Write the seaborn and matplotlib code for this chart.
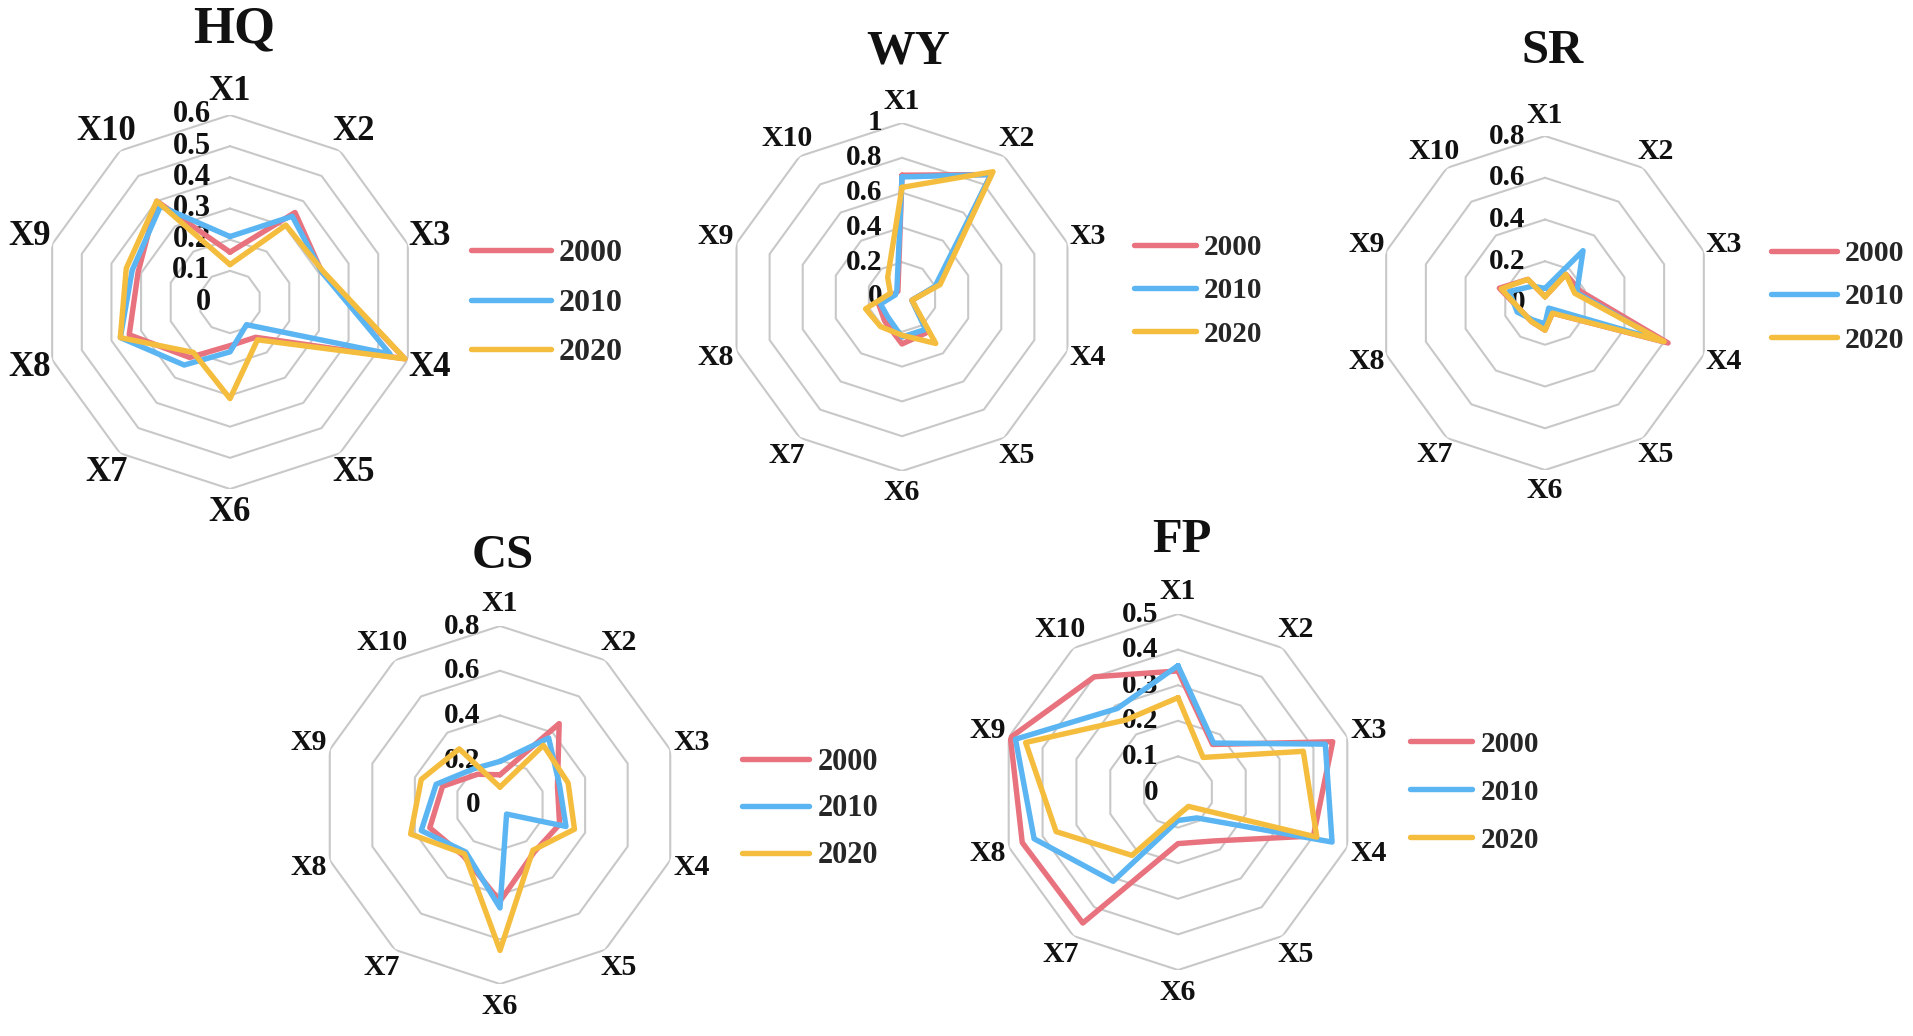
import numpy as np
import pandas as pd
import matplotlib
matplotlib.use('Agg')
import matplotlib.pyplot as plt
import seaborn as sns

sns.set_theme(style='white')
plt.rcParams['font.family'] = ['Liberation Serif', 'DejaVu Serif']
plt.rcParams['font.weight'] = 'bold'

# datos
categories = ['X1', 'X2', 'X3', 'X4', 'X5', 'X6', 'X7', 'X8', 'X9', 'X10']
years = ['2000', '2010', '2020']

hq_2000 = [0.16, 0.355, 0.31, 0.59, 0.14, 0.14, 0.22, 0.34, 0.31, 0.40]
hq_2010 = [0.21, 0.34, 0.31, 0.54, 0.09, 0.16, 0.25, 0.37, 0.33, 0.38]
hq_2020 = [0.12, 0.305, 0.315, 0.59, 0.15, 0.31, 0.20, 0.37, 0.35, 0.40]

wy_2000 = [0.70, 0.87, 0.21, 0.06, 0.25, 0.27, 0.17, 0.14, 0.05, 0.04]
wy_2010 = [0.69, 0.87, 0.20, 0.06, 0.23, 0.23, 0.14, 0.13, 0.04, 0.05]
wy_2020 = [0.63, 0.89, 0.23, 0.06, 0.33, 0.22, 0.21, 0.22, 0.07, 0.14]

sr_2000 = [0.03, 0.17, 0.18, 0.62, 0.06, 0.13, 0.11, 0.12, 0.23, 0.14]
sr_2010 = [0.07, 0.31, 0.16, 0.58, 0.03, 0.10, 0.10, 0.14, 0.18, 0.10]
sr_2020 = [0.03, 0.17, 0.15, 0.60, 0.06, 0.13, 0.11, 0.12, 0.22, 0.14]

cs_2000 = [0.135, 0.45, 0.27, 0.28, 0.26, 0.43, 0.28, 0.33, 0.27, 0.17]
cs_2010 = [0.195, 0.37, 0.28, 0.31, 0.05, 0.46, 0.26, 0.37, 0.30, 0.20]
cs_2020 = [0.08, 0.33, 0.32, 0.35, 0.25, 0.65, 0.27, 0.42, 0.37, 0.31]

fp_2000 = [0.34, 0.165, 0.457, 0.40, 0.17, 0.145, 0.455, 0.46, 0.495, 0.40]
fp_2010 = [0.355, 0.17, 0.435, 0.455, 0.09, 0.08, 0.31, 0.425, 0.48, 0.29]
fp_2020 = [0.265, 0.12, 0.37, 0.41, 0.05, 0.065, 0.22, 0.36, 0.45, 0.25]

hq_ticks = [0, 0.1, 0.2, 0.3, 0.4, 0.5, 0.6]
wy_ticks = [0, 0.2, 0.4, 0.6, 0.8, 1]
sr_ticks = [0, 0.2, 0.4, 0.6, 0.8]
cs_ticks = [0, 0.2, 0.4, 0.6, 0.8]
fp_ticks = [0, 0.1, 0.2, 0.3, 0.4, 0.5]

colors = ['#E8727E', '#5AB5F2', '#F5BD3E']

W, H = 1913, 1036
fig = plt.figure(figsize=(W / 100, H / 100), dpi=100)

# cada panel: centro y radio (px), titulo, tamaños de letra y leyenda
panels = [
    dict(name='HQ', series=[hq_2000, hq_2010, hq_2020], ticks=hq_ticks,
         cx=230, cy=302, R=187, title=(234, 29), tsize=38, csize=25, rsize=22,
         lx=471, ly=303, lsize=23, hlen=2.5, hpad=0.25, lspace=0.64),
    dict(name='WY', series=[wy_2000, wy_2010, wy_2020], ticks=wy_ticks,
         cx=902, cy=297, R=174, title=(908, 52), tsize=35, csize=21.5, rsize=21,
         lx=1134, ly=291, lsize=21, hlen=2.12, hpad=0.28, lspace=0.55),
    dict(name='SR', series=[sr_2000, sr_2010, sr_2020], ticks=sr_ticks,
         cx=1545, cy=303, R=167, title=(1553, 51), tsize=35, csize=21.5, rsize=21,
         lx=1771, ly=297, lsize=21.5, hlen=2.22, hpad=0.26, lspace=0.55),
    dict(name='CS', series=[cs_2000, cs_2010, cs_2020], ticks=cs_ticks,
         cx=500, cy=805, R=179, title=(503, 556), tsize=35, csize=21.5, rsize=21,
         lx=742, ly=809, lsize=22, hlen=2.19, hpad=0.3, lspace=0.58),
    dict(name='FP', series=[fp_2000, fp_2010, fp_2020], ticks=fp_ticks,
         cx=1178, cy=792, R=178, title=(1182, 540), tsize=35, csize=21.5, rsize=21,
         lx=1410, ly=792, lsize=21, hlen=2.12, hpad=0.3, lspace=0.72),
]

n = len(categories)
theta = np.arange(n) * 2 * np.pi / n
theta_closed = np.append(theta, theta[0])

for p in panels:
    cx, cy, R = p['cx'], p['cy'], p['R']
    ax = fig.add_axes([(cx - R) / W, 1 - (cy + R) / H, 2 * R / W, 2 * R / H],
                      projection='polar')
    ax.set_theta_zero_location('N')
    ax.set_theta_direction(-1)
    ticks = p['ticks']
    rmax = ticks[-1]
    ax.set_ylim(0, rmax)
    ax.set_xticks([])
    ax.set_yticks([])
    ax.grid(False)
    ax.spines['polar'].set_visible(False)
    ax.patch.set_alpha(0)

    # anillos decagonales
    for v in ticks[1:]:
        ax.plot(theta_closed, [v] * (n + 1), color='#C8C8C8', lw=1.5, zorder=1)

    # etiquetas radiales
    for v in ticks:
        ax.annotate(f'{v:g}', xy=(0, v), xytext=(-14, 0), textcoords='offset points',
                    ha='right', va='center', fontsize=p['rsize'], fontweight='bold',
                    color='#111111', zorder=2)

    # categorias
    for t, c in zip(theta, categories):
        ax.text(t, rmax * 1.125, c, ha='center', va='center', fontsize=p['csize'],
                fontweight='bold', color='#111111')

    # series
    rows = []
    for yr, vals in zip(years, p['series']):
        closed = list(vals) + [vals[0]]
        for t, v in zip(theta_closed, closed):
            rows.append({'theta': t, 'value': v, 'year': yr})
    df = pd.DataFrame(rows)
    for yr, col in zip(years, colors):
        sub = df[df['year'] == yr]
        sns.lineplot(x=sub['theta'].to_numpy(), y=sub['value'].to_numpy(), ax=ax,
                     sort=False, estimator=None, color=col, lw=3.9, label=yr,
                     solid_joinstyle='round', solid_capstyle='round', zorder=3)
    ax.set_xlabel('')
    ax.set_ylabel('')

    handles, labels = ax.get_legend_handles_labels()
    ax.legend(handles, labels, loc='center left',
              bbox_to_anchor=(p['lx'] / W, 1 - p['ly'] / H),
              bbox_transform=fig.transFigure, frameon=False,
              handlelength=p['hlen'], handletextpad=p['hpad'],
              labelspacing=p['lspace'], borderaxespad=0, borderpad=0,
              prop={'weight': 'bold', 'size': p['lsize']})

    fig.text(p['title'][0] / W, 1 - p['title'][1] / H, p['name'], ha='center',
             va='center', fontsize=p['tsize'], fontweight='bold', color='#111111')

fig.savefig('out.png', dpi=100, facecolor='white')
